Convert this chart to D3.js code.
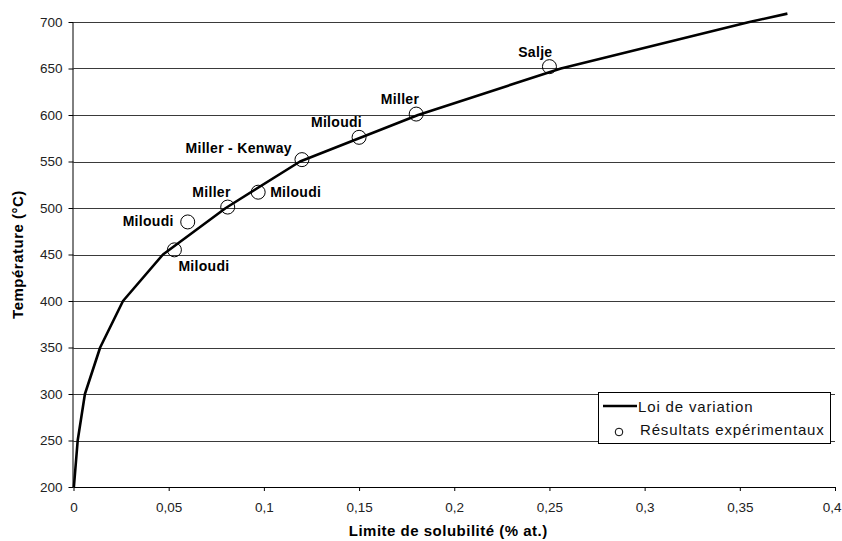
<!DOCTYPE html>
<html>
<head>
<meta charset="utf-8">
<script src="https://cdn.jsdelivr.net/npm/d3@7"></script>
<style>
  html, body { margin: 0; padding: 0; background: #fff; }
  svg { display: block; font-family: "Liberation Sans", Arial, sans-serif; }
</style>
</head>
<body>
<svg id="chart" width="842" height="541"></svg>
<script>
// ---- Data ----
const curveX = [0.0002, 0.0022, 0.006, 0.014, 0.026, 0.047, 0.080, 0.119, 0.181, 0.256, 0.355, 0.375];
const curveT = [200, 250, 300, 350, 400, 450, 500, 550, 600, 650, 700, 709];

const ptX = [0.053, 0.060, 0.081, 0.097, 0.120, 0.150, 0.180, 0.250];
const ptT = [455, 485, 501, 517, 552, 576, 601, 652];
const ptLabel = ["Miloudi", "Miloudi", "Miller", "Miloudi", "Miller - Kenway", "Miloudi", "Miller", "Salje"];
const ptLabelSide = ["below", "left", "above", "right", "upleft", "above", "above", "above"];

const xTicks = [0, 0.05, 0.1, 0.15, 0.2, 0.25, 0.3, 0.35, 0.4];
const xTickLabels = ["0", "0,05", "0,1", "0,15", "0,2", "0,25", "0,3", "0,35", "0,4"];
const yTicks = [200, 250, 300, 350, 400, 450, 500, 550, 600, 650, 700];
const yTickLabels = ["200", "250", "300", "350", "400", "450", "500", "550", "600", "650", "700"];

const xTitle = "Limite de solubilité (% at.)";
const yTitle = "Température (°C)";
const legendLabels = ["Loi de variation", "Résultats expérimentaux"];

// ---- Layout ----
const svg = d3.select("#chart");
const pL = 73.5, pR = 835, pT = 22, pB = 487;

const x = d3.scaleLinear().domain([0, 0.4]).range([pL, pR]);
const y = d3.scaleLinear().domain([200, 700]).range([pB, pT]);

svg.append("rect").attr("width", 842).attr("height", 541).attr("fill", "#fff");

// Gridlines
svg.append("g")
  .selectAll("line")
  .data(yTicks.filter(t => t > 200))
  .join("line")
  .attr("x1", pL).attr("x2", pR)
  .attr("y1", d => Math.round(y(d)) + 0.5).attr("y2", d => Math.round(y(d)) + 0.5)
  .attr("stroke", "#3a3a3a").attr("stroke-width", 1);

// Y axis
const yAxis = d3.axisLeft(y)
  .tickValues(yTicks)
  .tickFormat((d, i) => yTickLabels[i])
  .tickSize(5).tickPadding(6);
const gy = svg.append("g").attr("transform", `translate(${pL},0)`).call(yAxis);
gy.select(".domain").attr("stroke", "#000").attr("d", `M-0.5,${pT}V${pB}`);
gy.selectAll(".tick line").attr("stroke", "#000");
gy.selectAll(".tick text").attr("font-size", "13.5px").attr("fill", "#222")
  .attr("font-family", "'Liberation Sans', Arial, sans-serif");

// X axis
const xAxis = d3.axisBottom(x)
  .tickValues(xTicks)
  .tickFormat((d, i) => xTickLabels[i])
  .tickSize(4).tickPadding(11);
const gx = svg.append("g").attr("transform", `translate(0,${pB})`).call(xAxis);
gx.select(".domain").attr("stroke", "#000").attr("d", `M${pL},0.5H${pR}`);
gx.selectAll(".tick line").attr("stroke", "#000");
gx.selectAll(".tick text").attr("font-size", "13.5px").attr("fill", "#222")
  .attr("font-family", "'Liberation Sans', Arial, sans-serif");
// keep the last label inside the page
gx.selectAll(".tick text")
  .filter((d, i) => i === xTicks.length - 1)
  .attr("text-anchor", "end").attr("x", 842 - pR - 1);

// Axis titles
svg.append("text")
  .attr("x", (pL + pR) / 2 - 6).attr("y", 536)
  .attr("text-anchor", "middle")
  .attr("font-size", "15px").attr("font-weight", "bold")
  .attr("letter-spacing", "0.5px")
  .text(xTitle);

svg.append("text")
  .attr("transform", `translate(23,${(pT + pB) / 2}) rotate(-90)`)
  .attr("text-anchor", "middle")
  .attr("font-size", "15px").attr("font-weight", "bold")
  .attr("letter-spacing", "0.5px")
  .text(yTitle);

// Experimental points
const pts = ptX.map((v, i) => ({ x: v, t: ptT[i], label: ptLabel[i], side: ptLabelSide[i] }));
svg.append("g")
  .selectAll("circle")
  .data(pts)
  .join("circle")
  .attr("cx", d => x(d.x)).attr("cy", d => y(d.t)).attr("r", 7)
  .attr("fill", "none").attr("stroke", "#000").attr("stroke-width", 1);

// Curve
const curve = curveX.map((v, i) => ({ x: v, t: curveT[i] }));
svg.append("path")
  .datum(curve)
  .attr("d", d3.line().x(d => x(d.x)).y(d => y(d.t)))
  .attr("fill", "none").attr("stroke", "#000").attr("stroke-width", 2.6)
  .attr("stroke-linejoin", "round");

// Point labels
const place = {
  below: { anchor: "start", dx: 4, dy: 21 },
  left: { anchor: "end", dx: -14, dy: 4 },
  above: { anchor: "end", dx: 3, dy: -10 },
  right: { anchor: "start", dx: 12, dy: 5 },
  upleft: { anchor: "end", dx: -10, dy: -7 }
};
svg.append("g")
  .selectAll("text")
  .data(pts)
  .join("text")
  .attr("x", d => x(d.x) + place[d.side].dx)
  .attr("y", d => y(d.t) + place[d.side].dy)
  .attr("text-anchor", d => place[d.side].anchor)
  .attr("font-size", "14px").attr("font-weight", "bold")
  .attr("letter-spacing", "0.3px")
  .text(d => d.label);

// Legend
const lg = svg.append("g");
lg.append("rect")
  .attr("x", 598.5).attr("y", 392.5).attr("width", 232).attr("height", 51)
  .attr("fill", "#fff").attr("stroke", "#000").attr("stroke-width", 1);
lg.append("line")
  .attr("x1", 603).attr("x2", 637).attr("y1", 406).attr("y2", 406)
  .attr("stroke", "#000").attr("stroke-width", 2.6);
lg.append("circle")
  .attr("cx", 619).attr("cy", 432).attr("r", 3.8)
  .attr("fill", "none").attr("stroke", "#000").attr("stroke-width", 1);
lg.selectAll("text.lt")
  .data(legendLabels)
  .join("text")
  .attr("class", "lt")
  .attr("x", (d, i) => i === 0 ? 638 : 640)
  .attr("y", (d, i) => i === 0 ? 412 : 435)
  .attr("font-size", "15px")
  .attr("letter-spacing", "0.85px")
  .attr("fill", "#111")
  .text(d => d);
</script>
</body>
</html>
